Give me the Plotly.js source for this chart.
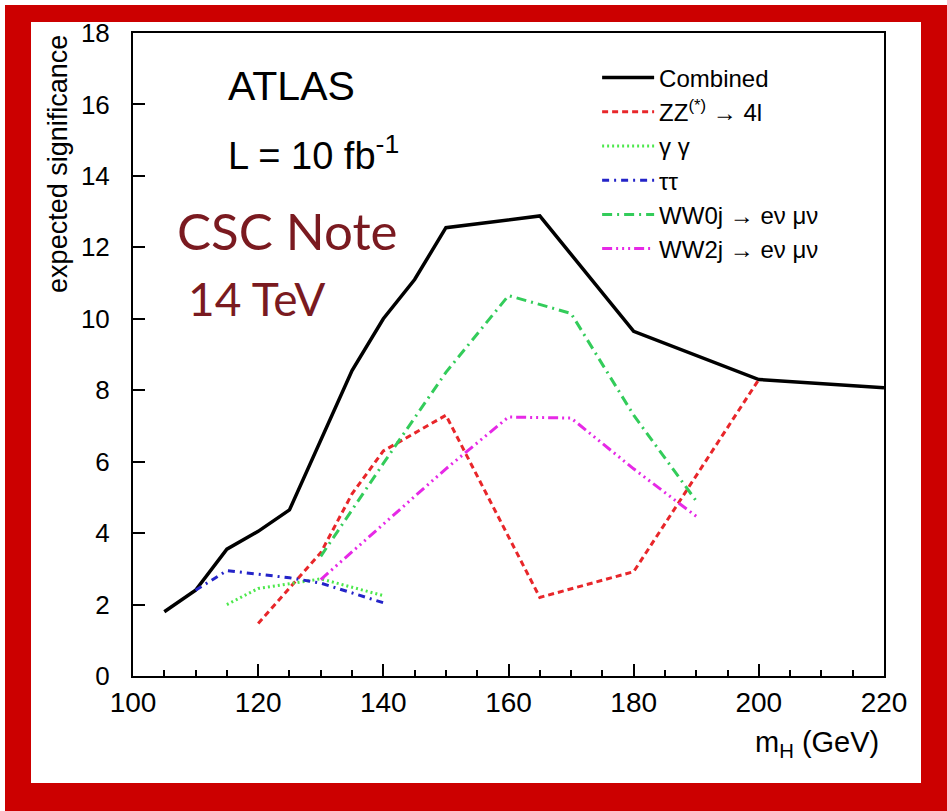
<!DOCTYPE html>
<html>
<head>
<meta charset="utf-8">
<script src="https://cdn.plot.ly/plotly-3.0.1.min.js"></script>
<style>
html,body{margin:0;padding:0;background:#fff;}
#frame{position:absolute;left:5px;top:5px;width:942px;height:806px;background:#cc0000;}
#chart{position:absolute;left:31px;top:22px;width:890px;height:761px;background:#fff;}
</style>
</head>
<body>
<div id="frame"></div>
<div id="chart"></div>
<script>
// Higgs mass points (GeV) and expected significance per channel
const combinedMass = [105, 110, 115, 120, 125, 130, 135, 140, 145, 150, 165, 180, 200, 220];
const combinedSig  = [1.8, 2.4, 3.55, 4.05, 4.65, 6.6, 8.55, 10.0, 11.1, 12.55, 12.88, 9.65, 8.3, 8.07];

const zzMass = [120, 125, 130, 135, 140, 145, 150, 165, 180, 200];
const zzSig  = [1.47, 2.45, 3.45, 5.1, 6.3, 6.8, 7.3, 2.2, 2.92, 8.3];

const ggMass = [115, 120, 125, 130, 140];
const ggSig  = [2.0, 2.45, 2.58, 2.72, 2.25];

const ttMass = [110, 115, 120, 125, 130, 140];
const ttSig  = [2.4, 2.95, 2.85, 2.75, 2.6, 2.05];

const ww0Mass = [130, 140, 150, 160, 170, 180, 190];
const ww0Sig  = [3.35, 5.95, 8.5, 10.65, 10.15, 7.3, 4.9];

const ww2Mass = [130, 140, 150, 160, 170, 180, 190];
const ww2Sig  = [2.7, 4.25, 5.8, 7.25, 7.22, 5.8, 4.47];

const seriesNames = ['Combined', 'ZZ<sup>(*)</sup> \u2192 4l', '\u03b3 \u03b3', '\u03c4\u03c4',
                     'WW0j \u2192 e\u03bd \u03bc\u03bd', 'WW2j \u2192 e\u03bd \u03bc\u03bd'];

const traces = [
  {x: combinedMass, y: combinedSig, name: seriesNames[0], mode: 'lines',
   line: {color: '#000000', width: 3.5}},
  {x: zzMass, y: zzSig, name: seriesNames[1], mode: 'lines',
   line: {color: '#e8262a', width: 3, dash: '6px,4px'}},
  {x: ggMass, y: ggSig, name: seriesNames[2], mode: 'lines',
   line: {color: '#4de84d', width: 3, dash: '2px,3px'}},
  {x: ttMass, y: ttSig, name: seriesNames[3], mode: 'lines',
   line: {color: '#2424c8', width: 3, dash: '7px,5px,2px,5px'}},
  {x: ww0Mass, y: ww0Sig, name: seriesNames[4], mode: 'lines',
   line: {color: '#33cc5a', width: 3, dash: '10px,5px,2px,5px'}},
  {x: ww2Mass, y: ww2Sig, name: seriesNames[5], mode: 'lines',
   line: {color: '#e629e6', width: 3, dash: '10px,4px,2px,4px,2px,4px,2px,4px'}}
];

const font = 'Liberation Sans, Arial, Helvetica, sans-serif';

const layout = {
  width: 890, height: 761,
  margin: {l: 102, r: 37, t: 11, b: 107},
  paper_bgcolor: '#ffffff', plot_bgcolor: '#ffffff',
  showlegend: true,
  legend: {x: 0.618, y: 0.965, xanchor: 'left', yanchor: 'top',
           font: {family: font, size: 24, color: '#000'},
           bgcolor: 'rgba(0,0,0,0)', itemwidth: 52, tracegroupgap: 0},
  xaxis: {range: [100, 220], showgrid: false, zeroline: false,
          showline: true, linecolor: '#000', linewidth: 2, mirror: true,
          ticks: 'inside', ticklen: 12, tickwidth: 2, tickcolor: '#000',
          dtick: 20, tick0: 100,
          minor: {dtick: 5, ticks: 'inside', ticklen: 6, tickwidth: 2, tickcolor: '#000', showgrid: false},
          tickfont: {family: font, size: 28, color: '#000'}},
  yaxis: {range: [0, 18], showgrid: false, zeroline: false,
          showline: true, linecolor: '#000', linewidth: 2, mirror: true,
          ticks: 'inside', ticklen: 12, tickwidth: 2, tickcolor: '#000',
          dtick: 2, tick0: 0, ticklabelstandoff: 16, ticklabeloverflow: 'allow',
          tickfont: {family: font, size: 26, color: '#000'}},
  // tick-only companion axes: outward ticks of a top/right-side axis placed on the
  // bottom/left edge point into the plot area
  xaxis2: {overlaying: 'x', matches: 'x', side: 'top', anchor: 'free', position: 0,
           showgrid: false, zeroline: false, showline: false, showticklabels: false,
           ticks: 'outside', ticklen: 12, tickwidth: 2, tickcolor: '#000', dtick: 20, tick0: 100,
           minor: {dtick: 5, ticks: 'outside', ticklen: 6, tickwidth: 2, tickcolor: '#000', showgrid: false}},
  yaxis2: {overlaying: 'y', matches: 'y', side: 'right', anchor: 'free', position: 0,
           showgrid: false, zeroline: false, showline: false, showticklabels: false,
           ticks: 'outside', ticklen: 12, tickwidth: 2, tickcolor: '#000', dtick: 2, tick0: 0},
  annotations: [
    {xref: 'paper', yref: 'paper', x: -0.1, y: 1.0, xanchor: 'center', yanchor: 'top',
     textangle: -90, text: 'expected significance', showarrow: false,
     font: {family: font, size: 27, color: '#000'}},
    {xref: 'paper', yref: 'paper', x: 0.996, y: -0.075, xanchor: 'right', yanchor: 'top',
     text: 'm<sub>H</sub> (GeV)', showarrow: false,
     font: {family: font, size: 29, color: '#000'}},
    {xref: 'x', yref: 'y', x: 114.8, y: 16.52, xanchor: 'left', yanchor: 'middle',
     text: 'ATLAS', showarrow: false, font: {family: font, size: 41, color: '#000'}},
    {xref: 'x', yref: 'y', x: 114.8, y: 14.64, xanchor: 'left', yanchor: 'middle',
     text: 'L = 10 fb<sup>-1</sup>', showarrow: false, font: {family: font, size: 38, color: '#000'}},
    {xref: 'x', yref: 'y', x: 106.7, y: 12.46, xanchor: 'left', yanchor: 'middle',
     text: 'CSC Note', showarrow: false, font: {family: 'Lato, ' + font, size: 51, color: '#7a1a20'}},
    {xref: 'x', yref: 'y', x: 108.4, y: 10.58, xanchor: 'left', yanchor: 'middle',
     text: '14 TeV', showarrow: false, font: {family: 'Lato, ' + font, size: 46, color: '#7a1a20'}}
  ]
};

Plotly.newPlot('chart', traces, layout, {displayModeBar: false, staticPlot: true});
</script>
</body>
</html>
